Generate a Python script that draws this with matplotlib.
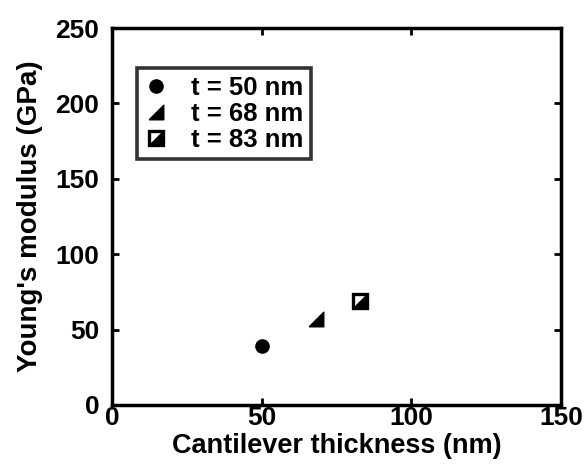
import numpy as np
import matplotlib
matplotlib.use("Agg")
from matplotlib import pyplot as plt
from matplotlib.legend_handler import HandlerTuple

# Young's modulus measured on cantilevers of three thicknesses
thickness = [50, 68, 83]
modulus = [39, 57, 69]
labels = ["t = 50 nm", "t = 68 nm", "t = 83 nm"]

x_ticks = [0, 50, 100, 150]
y_ticks = [0, 50, 100, 150, 200, 250]

plt.rcParams['font.family'] = ['Liberation Sans', 'DejaVu Sans']
plt.rcParams['font.weight'] = 'bold'

fig = plt.figure(figsize=(5.84, 4.70), dpi=100)
ax = fig.add_axes([112 / 584, 1 - 405 / 470, 449 / 584, 377 / 470])

# right triangle (right angle at lower right), also used to half-fill the square
tri = [(-1, -1), (1, -1), (1, 1), (-1, -1)]

h_circ, = ax.plot(thickness[0], modulus[0], 'o', color='black', ms=9.5, ls='none')
h_tri, = ax.plot(thickness[1], modulus[1], marker=tri, color='black', ms=10.5, ls='none')
h_sq_open, = ax.plot(thickness[2], modulus[2], 's', mfc='white', mec='black',
                     mew=2.4, ms=9.5, ls='none')
h_sq_fill, = ax.plot(thickness[2], modulus[2], marker=tri, color='black',
                     ms=8.5, ls='none')

leg = ax.legend([h_circ, h_tri, (h_sq_open, h_sq_fill)], labels,
                handler_map={tuple: HandlerTuple(ndivide=1, pad=0)},
                loc='upper left', bbox_to_anchor=(0.056, 0.894),
                fontsize=18.5, handlelength=0.9, handletextpad=0.9,
                borderpad=0.3, borderaxespad=0, labelspacing=0.08,
                frameon=True, fancybox=False)
leg.get_frame().set_edgecolor('black')
leg.get_frame().set_linewidth(2.6)

ax.set_xlim(0, 150)
ax.set_ylim(0, 250)
ax.set_xticks(x_ticks)
ax.set_yticks(y_ticks)
ax.tick_params(direction='in', length=5, width=2, top=True, right=True,
               labelsize=19)
ax.tick_params(axis='x', pad=1)
ax.tick_params(axis='y', pad=9)
for s in ax.spines.values():
    s.set_linewidth(2.5)

ax.set_xlabel("Cantilever thickness (nm)", fontsize=19.5, fontweight='bold', labelpad=2)
ax.set_ylabel("Young's modulus (GPa)", fontsize=20, fontweight='bold', labelpad=9)

fig.savefig("out.png", dpi=100)
